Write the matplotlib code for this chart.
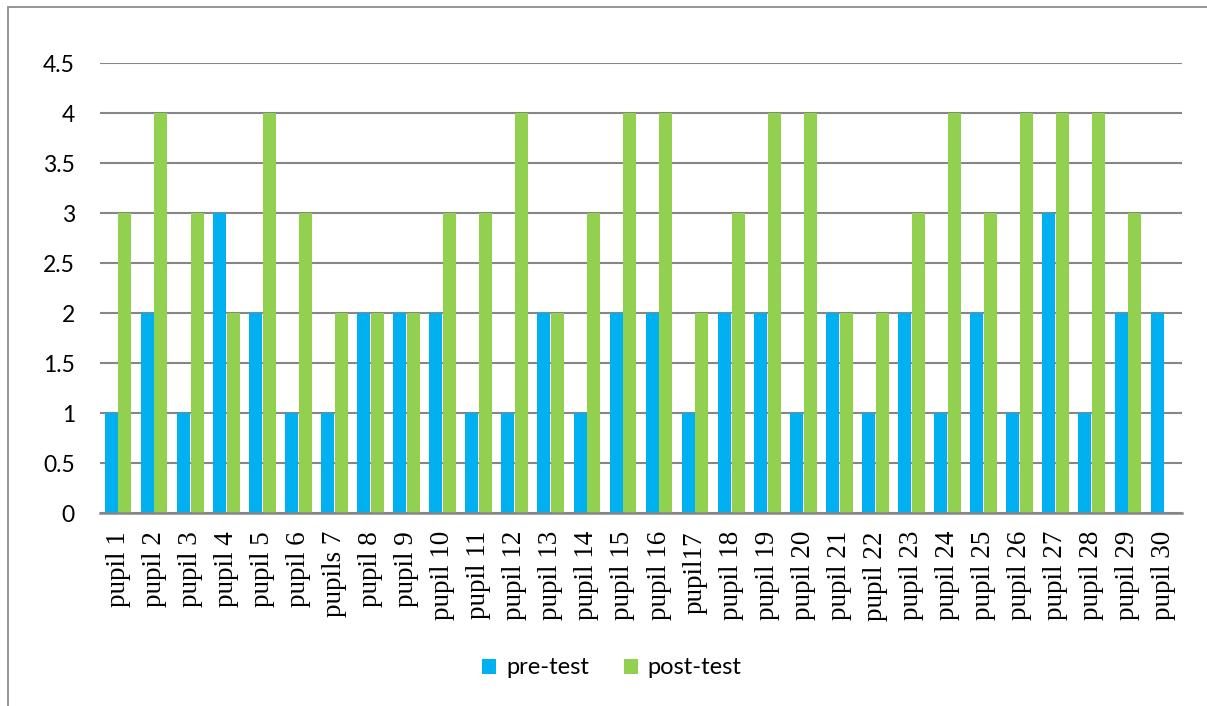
import numpy as np
import matplotlib.pyplot as plt
from matplotlib.patches import Rectangle

# datos del gráfico
pupils = ['pupil 1', 'pupil 2', 'pupil 3', 'pupil 4', 'pupil 5', 'pupil 6', 'pupils 7',
          'pupil 8', 'pupil 9', 'pupil 10', 'pupil 11', 'pupil 12', 'pupil 13', 'pupil 14',
          'pupil 15', 'pupil 16', 'pupil17', 'pupil 18', 'pupil 19', 'pupil 20', 'pupil 21',
          'pupil 22', 'pupil 23', 'pupil 24', 'pupil 25', 'pupil 26', 'pupil 27', 'pupil 28',
          'pupil 29', 'pupil 30']
pre_test = [1, 2, 1, 3, 2, 1, 1, 2, 2, 2, 1, 1, 2, 1, 2, 2, 1, 2, 2, 1, 2, 1, 2, 1, 2, 1, 3, 1, 2, 2]
post_test = [3, 4, 3, 2, 4, 3, 2, 2, 2, 3, 3, 4, 2, 3, 4, 4, 2, 3, 4, 4, 2, 2, 3, 4, 3, 4, 4, 4, 3, 0]

W, H = 1207, 706
fig = plt.figure(figsize=(W / 100, H / 100), dpi=100)
ax = fig.add_axes([100 / W, 1 - 513 / H, 1082 / W, 450 / H])

x = np.arange(len(pupils))
w = 0.36
b1 = ax.bar(x - 0.19, pre_test, w, color='#00B0F0', label='pre-test', zorder=3)
b2 = ax.bar(x + 0.19, post_test, w, color='#92D050', label='post-test', zorder=3)

ax.set_xlim(-0.5, len(pupils) - 0.5)
ax.set_ylim(0, 4.5)
ax.set_yticks(np.arange(0, 4.51, 0.5))
ax.set_yticklabels(['0', '0.5', '1', '1.5', '2', '2.5', '3', '3.5', '4', '4.5'],
                   fontfamily='Lato', fontsize=16.5)
ax.set_xticks(x)
ax.set_xticklabels(pupils, rotation=90, fontfamily='Liberation Serif', fontsize=19.5)
ax.tick_params(axis='x', length=0, pad=13)
ax.tick_params(axis='y', length=0, pad=18)
ax.grid(axis='y', color='#868686', linewidth=1.5, zorder=0)
for s in ['left', 'right', 'top']:
    ax.spines[s].set_visible(False)
ax.spines['bottom'].set_color('#868686')
ax.spines['bottom'].set_linewidth(1.8)
ax.spines['bottom'].set_zorder(4)

fig.legend(handles=[b1, b2], loc='center', bbox_to_anchor=(612 / W, 1 - 668 / H),
           ncol=2, frameon=False, prop={'family': 'Lato', 'size': 17},
           handlelength=0.6, handleheight=0.6, handletextpad=0.4, columnspacing=1.5)

# marco exterior
fig.patches.append(Rectangle((8 / W, -0.1), 1.2, 1 - 7 / H + 0.1, transform=fig.transFigure,
                             fill=False, edgecolor='#8c8c8c', linewidth=1.3))

plt.savefig('out.png', dpi=100)
